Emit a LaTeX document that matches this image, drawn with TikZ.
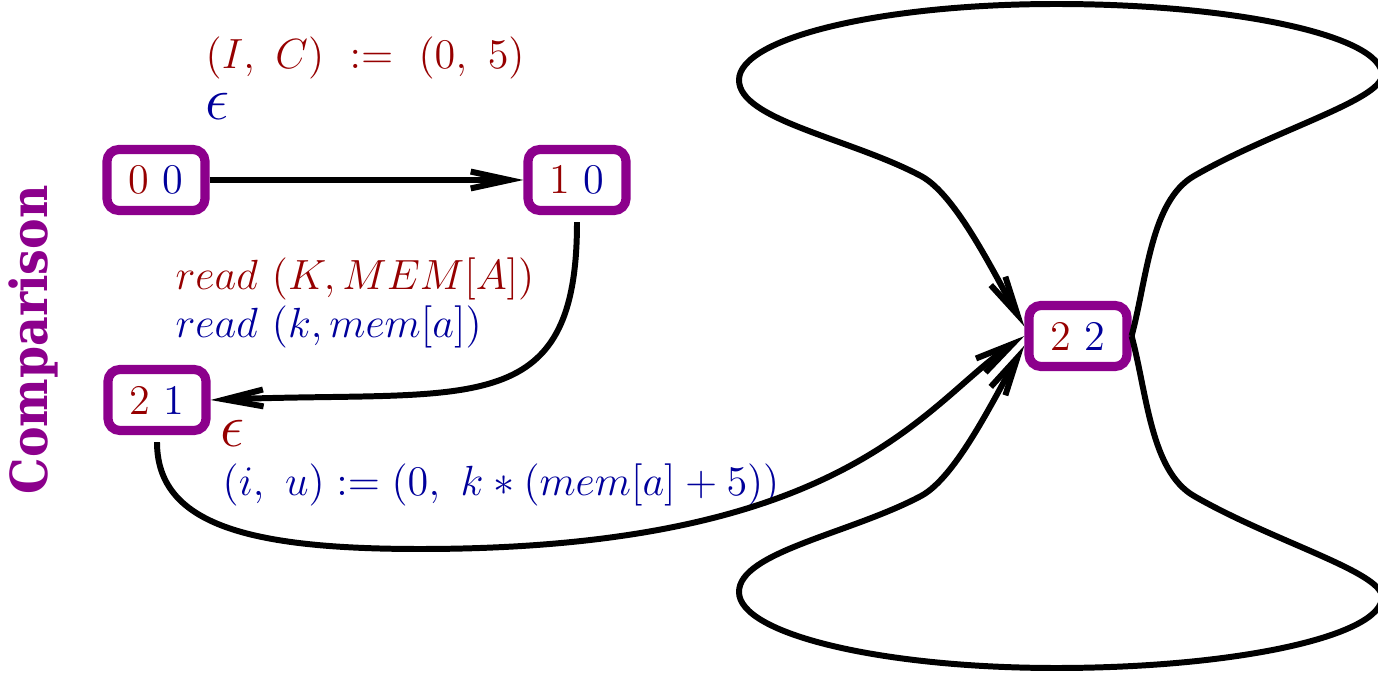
\documentclass[tikz,border=0pt]{standalone}
\usepackage{amsmath}
\usepackage{fontspec}
\newfontfamily\sidefont{DejaVu Serif Condensed}
\usetikzlibrary{arrows.meta}
\definecolor{stred}{RGB}{150,0,0}
\definecolor{stblue}{RGB}{0,0,155}
\definecolor{stpurple}{RGB}{140,0,140}
\begin{document}
\begin{tikzpicture}[x=0.01cm,y=0.01cm,>={Straight Barb[length=11pt,width=4.8pt]},
 box/.style={draw=stpurple,line width=2.6pt,rounded corners=3.4pt,minimum width=0.98cm,minimum height=0.61cm,inner sep=0pt,font=\large},
 lab/.style={anchor=base west,inner sep=0pt,font=\large},
 eps/.style={anchor=base west,inner sep=0pt,font=\fontsize{18}{20}\selectfont},
 arr/.style={->,line width=1.7pt}]
\useasboundingbox (0,0) rectangle (1378,-676);
\node[rotate=90,text=stpurple,font=\sidefont\bfseries\fontsize{14.5}{16}\selectfont] (cmp) at (33,-340) {Comparison};
% states
\node[box] (n00) at (156,-180) {\color{stred}0~\color{stblue}0};
\node[box] (n10) at (577,-180) {\color{stred}1~\color{stblue}0};
\node[box] (n21) at (157,-400) {\color{stred}2~\color{stblue}1};
\node[box] (n22) at (1078,-336) {\color{stred}2~\color{stblue}2};
% labels
\node[lab,text=stred] (ic) at (205,-69) {$(I,\ C)\ :=\ (0,\ 5)$};
\node[eps,text=stblue] (epstop) at (205,-120) {$\epsilon$};
\node[lab,text=stred,font=\fontsize{12.4}{15}\selectfont] (rdup) at (175,-290) {$read\ (K, MEM[A])$};
\node[lab,text=stblue,font=\fontsize{12.4}{15}\selectfont] (rdlow) at (175,-338) {$read\ (k, mem[a])$};
\node[eps,text=stred] (epsbot) at (220,-446) {$\epsilon$};
\node[lab,text=stblue] (asg) at (222,-495) {$(i,\ u) := (0,\ k*(mem[a]+5))$};
% transitions
\draw[arr] (n00)--(n10);
\draw[arr,shorten <=2pt] (n10.south) .. controls +(0,-208) and +(258,10) .. (n21.east);
\draw[arr,shorten <=2pt] (n21.south) .. controls +(0,-90) and +(-170,0) .. (420,-549)
  .. controls +(430,0) and +(214:120) .. (n22.west);
% self loops
\draw[arr] (n22.east) .. controls +(75:60) and +(210:50) .. (1194,-176)
  .. controls +(30:90) and +(0,-25) .. (1382,-75)
  .. controls +(0,39) and +(180,0) .. (1056,-4)
  .. controls +(-175,0) and +(0,42) .. (739,-80)
  .. controls +(0,-40) and +(152:80) .. (921,-176)
  .. controls +(-28:40) and +(120:60) .. (n22.170);
\draw[arr] (n22.east) .. controls +(-75:60) and +(150:50) .. (1194,-496)
  .. controls +(-30:90) and +(0,25) .. (1382,-597)
  .. controls +(0,-39) and +(180,0) .. (1056,-668)
  .. controls +(-175,0) and +(0,-42) .. (739,-592)
  .. controls +(0,40) and +(-152:80) .. (921,-496)
  .. controls +(28:40) and +(-120:60) .. (n22.190);
\end{tikzpicture}
\end{document}
